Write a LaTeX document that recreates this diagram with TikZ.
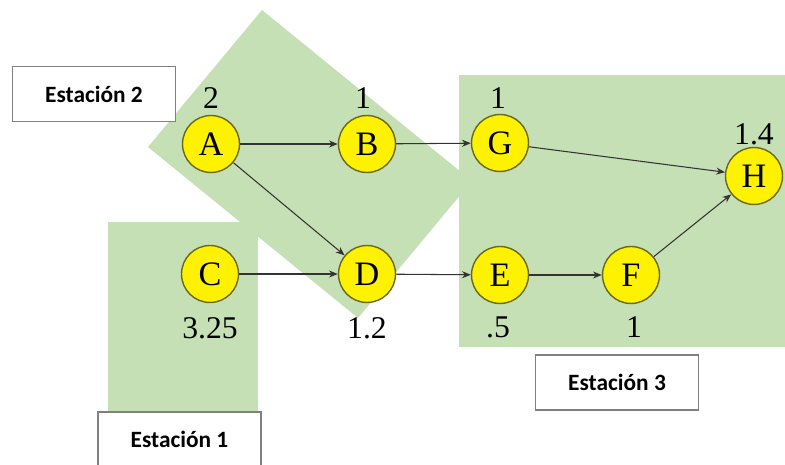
\documentclass[tikz,border=0pt]{standalone}
\usepackage{fontspec}
\setmainfont{Liberation Serif}
\newfontfamily\cajafont{Carlito}
\usetikzlibrary{arrows.meta}
\definecolor{verde}{HTML}{C5E0B4}
\definecolor{borde}{RGB}{105,105,25}
\tikzset{
  tarea/.style={circle,draw=borde,fill=yellow,line width=0.8pt,minimum size=1.14cm,inner sep=0pt,font=\fontsize{19.5}{20}\selectfont},
  tiempo/.style={inner sep=0pt,font=\fontsize{18}{18}\selectfont},
  estacion/.style={draw=black!50,fill=white,line width=0.6pt,minimum width=3.26cm,minimum height=1.1cm,font=\cajafont\bfseries\fontsize{13.3}{15}\selectfont},
  flecha/.style={-{Stealth[length=5pt,width=4pt]},line width=0.6pt,black!80}
}
\begin{document}
\begin{tikzpicture}[x=0.02cm,y=-0.02cm]
    \useasboundingbox (0,0) rectangle (785,465);
    % zonas de las estaciones
    \fill[verde] (108,222) rectangle (258,412);
    \fill[verde] (262,10) -- (472,181) -- (358,318) -- (148,147) -- cycle;
    \fill[verde] (459,75) rectangle (785,347);
    % tareas
    \node[tarea] (A) at (211,144) {A};
    \node[tarea] (B) at (367,144) {B};
    \node[tarea] (G) at (500,143) {G};
    \node[tarea] (H) at (754,176) {H};
    \node[tarea] (C) at (210,274) {C};
    \node[tarea] (D) at (367,274) {D};
    \node[tarea] (E) at (500,275) {E};
    \node[tarea] (F) at (631,275) {F};
    % tiempos
    \node[tiempo] (tA) at (211,98) {2};
    \node[tiempo] (tB) at (363,98) {1};
    \node[tiempo] (tG) at (498,98) {1};
    \node[tiempo] (tH) at (754,134) {1.4};
    \node[tiempo] (tC) at (210,328) {3.25};
    \node[tiempo] (tD) at (367,328) {1.2};
    \node[tiempo] (tE) at (498,327) {.5};
    \node[tiempo] (tF) at (634,327) {1};
    % precedencias
    \draw[flecha] (A) -- (B);
    \draw[flecha] (A) -- (D);
    \draw[flecha] (B) -- (G);
    \draw[flecha] (C) -- (D);
    \draw[flecha] (D) -- (E);
    \draw[flecha] (E) -- (F);
    \draw[flecha] (G) -- (H);
    \draw[flecha] (F) -- (H);
    % rotulos
    \node[estacion] (e2) at (94,94) {Estación 2};
    \node[estacion] (e1) at (179.5,439.5) {Estación 1};
    \node[estacion] (e3) at (617,382.5) {Estación 3};
\end{tikzpicture}
\end{document}
